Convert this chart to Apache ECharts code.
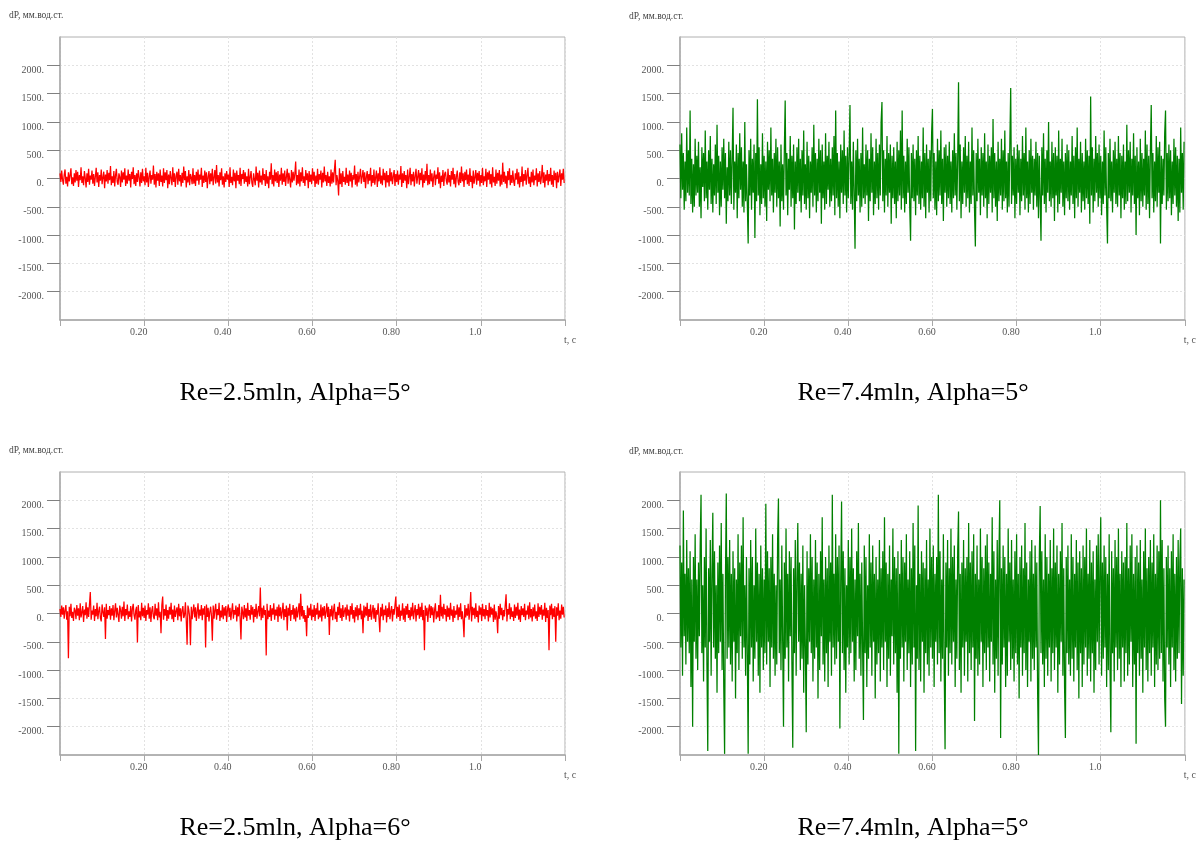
<!DOCTYPE html>
<html>
<head>
<meta charset="utf-8">
<script src="https://cdn.jsdelivr.net/npm/echarts@6/dist/echarts.min.js"></script>
<style>
html,body{margin:0;padding:0;background:#fff;}
#chart{width:1199px;height:846px;}
</style>
</head>
<body>
<div id="chart"></div>
<script>
// ---- data ----
const DT = 0.002; // sampling step, s
const xTickLabels = ['', '0.20', '0.40', '0.60', '0.80', '1.0', 't, c'];
const yTickValues = [-2000, -1500, -1000, -500, 0, 500, 1000, 1500, 2000];
const yTickLabels = ['-2000.', '-1500.', '-1000.', '-500.', '0.', '500.', '1000.', '1500.', '2000.'];
const axisTitle = 'dP, мм.вод.ст.';
const captions = ['Re=2.5mln, Alpha=5°', 'Re=7.4mln, Alpha=5°', 'Re=2.5mln, Alpha=6°', 'Re=7.4mln, Alpha=5°'];

const dpRe25a5 = [
90,-60,140,-20,-110,70,160,-90,30,-140,110,-50,60,180,-100,20,-130,90,-70,150,
-40,120,-150,60,-30,200,-80,40,-120,130,10,-160,90,-60,170,-110,50,-20,140,-90,
80,-130,30,190,-70,110,-150,60,-40,160,-100,20,120,-170,70,-50,150,-90,100,-30,
220,-120,40,-80,130,-140,60,170,-60,-110,90,30,-150,140,-70,110,-20,180,-130,50,
-90,160,-40,80,-160,120,-10,200,-100,60,-130,90,-60,150,20,-140,110,-80,170,-50,
40,-120,190,-70,100,-150,30,140,-90,60,-20,230,-110,80,-160,120,-40,90,-130,160,
-60,50,-140,180,-80,110,-30,150,-170,70,-100,130,10,-120,200,-60,90,-150,40,120,
-110,170,-50,60,-140,100,-80,210,-30,130,-160,40,-70,150,-120,80,20,-100,180,-90,
60,-130,120,-40,160,-110,70,-20,190,-150,50,-80,140,-60,110,-170,30,130,-100,90,
-50,170,-120,20,150,-90,240,-70,60,-140,110,-30,180,-110,40,-160,90,-60,130,-20,
70,-150,200,-80,30,-120,160,-50,100,-170,140,-40,60,-100,190,-130,80,-10,150,-90,
110,-60,40,-140,170,-100,20,130,-80,-150,90,60,-120,210,-40,100,-160,140,-70,50,
-110,180,-30,80,-130,150,-90,40,-170,120,-20,270,-100,60,-140,160,-50,110,-80,130,
-150,70,-40,190,-110,90,-60,140,-130,30,170,-90,100,-20,-160,150,-70,120,-40,80,
300,-120,60,-90,160,-140,110,-50,200,-80,40,-130,150,-30,90,-170,130,-60,70,-100,
180,-40,120,-150,50,-90,170,-110,80,-20,140,-160,100,-70,210,-50,60,-130,120,-80,
40,-140,160,-90,110,-70,150,330,-120,60,-40,-300,180,-100,90,-150,130,-60,30,-110,
190,-80,70,-130,140,-50,100,-160,60,-20,230,-110,80,-140,120,-70,40,170,-90,-120,
150,-60,110,-170,30,130,-100,80,-40,190,-140,60,-80,160,-110,20,140,-150,90,-50,
200,-90,50,-120,170,-30,100,-160,130,-70,60,-140,180,-50,110,-100,40,150,-130,80,
-60,140,-110,70,-20,220,-150,90,-80,130,-40,60,-170,160,-100,30,190,-120,80,-50,
120,-140,40,170,-90,-60,150,-110,100,-30,180,-160,70,-80,130,-40,260,-120,60,-100,
160,-50,90,-150,30,140,-120,70,-10,200,-90,110,-170,50,-60,150,-130,80,120,-40,
-110,170,-70,60,-140,130,-20,190,-100,80,-160,40,140,-60,-120,110,-80,210,-50,90,
-150,120,-30,160,-100,70,-130,180,-60,50,-170,140,-90,20,150,-110,100,-40,130,-140,
60,-80,190,-120,40,-50,170,-150,110,-20,140,-100,80,-160,200,-70,30,-130,160,-90,
100,-40,150,-140,70,-110,280,-60,120,-90,50,-170,130,-30,180,-120,60,-80,140,-50,
-130,90,-20,170,-100,110,-160,40,-60,210,-140,80,-40,150,-110,60,190,-90,30,-150,
120,-70,160,-120,50,-30,180,-140,90,-60,130,-100,20,240,-80,110,-160,70,-40,150,
-120,80,-50,190,-110,60,-150,140,-30,100,-170,120,-70,50,160,-130,90,-20,170,-80
];

const dpRe74a5top = [
600,-350,800,-200,450,-550,300,-400,900,-250,500,-300,1200,-450,350,-600,250,-500,700,-300,
400,-250,650,-500,200,-700,550,-150,450,-400,850,-350,300,-550,500,-200,750,-450,350,-600,
250,-300,600,-450,950,-250,400,-650,300,-500,550,-200,700,-350,450,-800,200,-400,650,-300,
500,-450,350,1250,-550,300,-250,600,-700,450,-350,800,-200,550,-500,300,-600,1000,-400,250,
-450,-1150,500,-300,700,-550,350,-250,600,-1050,450,-400,1400,-300,550,-650,250,-450,800,-350,
400,-500,300,-750,650,-200,500,-400,900,-300,350,-600,450,-250,700,-500,550,-350,300,-850,
600,-400,250,-550,500,1380,-300,450,-650,350,-200,750,-500,400,-350,600,-900,300,-450,550,
-250,700,-400,350,-600,500,-300,850,-450,250,-550,650,-350,400,-700,300,-250,550,-500,950,
-300,450,-600,350,-400,700,-250,500,-800,600,-350,300,-550,800,-450,400,-200,650,-500,350,
-400,550,-300,750,-650,1200,-350,450,-500,300,-700,600,-250,500,-450,850,-300,400,-600,550,
-350,400,1300,-450,300,-550,650,-250,-1240,500,-400,700,-300,350,-600,450,-500,900,-350,250,
-450,600,-300,500,-750,350,-400,800,-250,550,-650,300,-450,700,-350,450,-550,600,-300,1000,
1350,-400,500,-600,350,-300,750,-500,450,-250,600,-800,400,-350,550,-450,300,-700,650,-400,
500,-300,850,-550,1200,-350,400,-600,300,-450,700,-250,550,-500,-1100,450,-350,600,-400,350,
-650,500,-300,750,-450,400,-550,300,-350,900,-500,450,-700,600,-250,350,-600,500,-400,800,
1230,-350,450,-550,300,-650,700,-400,500,-300,850,-450,350,-750,550,-250,600,-500,400,-350,
650,-450,300,-600,500,-350,800,-300,450,-550,350,1700,-400,600,-700,300,-450,550,-250,750,
-500,400,-350,650,-600,300,-450,900,-300,500,-550,-1200,450,-400,700,-250,350,-650,550,-300,
450,-500,800,-350,300,-700,600,-450,400,-250,550,-600,1050,-350,450,-500,300,-750,650,-400,
350,-300,700,-550,500,-400,850,-350,300,-600,450,-500,650,1600,-450,400,-300,550,-700,350,
-450,600,-250,500,-650,350,-400,750,-300,450,-550,900,-350,300,-600,500,-450,700,-250,400,
-550,350,-300,650,-500,450,-700,400,-350,-1100,550,-300,800,-450,350,-600,500,-250,1000,-400,
300,-500,650,-350,450,-750,550,-300,400,-600,850,-450,350,-250,700,-500,300,-650,450,-350,
600,-400,500,-550,300,-300,750,-450,400,-700,550,-350,900,-500,350,-250,650,-600,450,-400,
300,-550,700,-350,500,-450,400,-800,1450,-300,550,-600,350,-400,750,-250,450,-500,600,-350,
400,-650,300,-450,850,-300,550,-500,-1150,450,-350,700,-400,300,-600,500,-250,650,-450,350,
-500,750,-300,450,-700,400,-350,600,-550,300,-450,950,-400,500,-250,650,-600,350,-300,800,
-450,400,-1000,550,-350,300,-650,700,-400,450,-500,350,-300,850,-550,600,-450,400,-700,500,
1300,-350,450,-600,300,-400,750,-500,550,-250,650,-1150,400,-450,350,-300,800,1200,-550,450,
-400,600,-350,500,-650,300,-450,700,-300,550,-500,400,-750,350,-600,900,-250,450,-550,650
];

const dpRe25a6 = [
80,-60,140,-20,110,-90,60,150,-110,40,-790,120,-50,170,-80,30,-130,100,60,-100,
150,-40,90,-120,180,-70,20,130,-150,70,-30,200,-90,110,-60,160,380,-110,50,-20,
140,-130,80,-50,190,-100,40,120,-80,-140,160,30,-60,110,-450,170,-90,60,-30,130,
-110,90,-40,150,-120,50,180,-70,100,-20,-150,140,60,-90,120,-50,210,-130,80,-30,
160,-100,40,-60,130,-140,90,170,-30,-110,60,120,-510,150,-70,40,-120,190,-50,100,
-80,140,-130,60,-20,180,-90,110,-150,50,130,-60,-100,170,-40,90,-120,200,-70,30,
-350,150,300,-110,80,-40,160,-130,60,-90,120,-20,190,-100,70,-150,140,-60,40,110,
-120,170,-50,90,-140,60,130,-80,-30,200,-110,-550,140,70,-60,-560,120,-100,50,160,
-70,110,-130,40,180,-90,70,-40,150,-120,90,-20,130,-600,160,-60,100,-140,30,120,
-50,-480,140,-90,60,170,-110,80,-30,190,-130,50,-70,150,-100,110,-40,130,-150,70,
160,-60,100,-120,40,180,-90,60,-20,140,-140,110,-50,170,-80,-460,120,30,-100,150,
-70,90,-130,190,-40,60,-110,150,-20,120,-160,80,-60,170,-90,40,130,-50,460,-120,
100,-80,140,-30,60,-740,170,-100,50,-60,150,-130,90,-20,180,-110,70,-40,120,-150,
160,-50,110,-90,30,190,-120,80,-60,140,-300,100,-40,170,-130,60,-20,150,-100,90,
-140,120,-70,40,180,-110,350,-50,130,-90,60,-150,-30,-400,140,-80,100,-40,170,-120,
70,-60,150,-130,90,-20,190,-100,50,-70,160,-140,110,-40,130,-90,30,180,-60,120,
-380,80,-50,140,-120,60,170,-100,30,-150,120,-30,200,-80,90,-130,150,-60,40,110,
-110,160,-40,70,-140,130,-20,180,-90,60,-160,110,-50,150,-120,90,-30,170,-100,50,
-350,140,-70,120,-40,190,-130,80,-60,160,-110,30,150,-90,100,-150,60,-20,180,-80,
-330,110,-50,170,-120,70,-30,140,-160,90,-60,200,-100,40,130,-140,80,-20,150,300,
-90,120,-60,160,-130,50,-40,180,-110,90,-150,130,-20,170,-80,60,-120,110,-50,190,
-100,40,150,-140,80,-30,170,-90,120,-60,190,-120,60,-650,140,-40,100,-150,70,160,
-80,130,-30,110,-160,60,180,-100,40,-70,150,-130,330,-50,120,-90,170,-20,80,-140,
140,-60,100,-110,190,-40,70,-150,130,-80,50,-20,160,-120,110,-60,180,-100,40,-130,
-420,150,-70,90,-40,170,-110,60,380,-140,120,-30,100,-90,180,-60,50,-160,140,-20,
110,-130,170,-50,80,-100,150,-40,60,-140,190,-70,120,-20,90,-150,160,-110,40,-60,
-350,130,-90,170,-30,100,-120,60,-50,150,340,-140,80,-20,180,-100,110,-60,40,-130,
160,-80,120,-40,190,-110,70,-150,130,-30,90,-60,170,-120,50,-20,140,-100,200,-70,
80,-140,110,-50,160,-90,40,-130,180,-60,120,-20,150,-110,70,-40,190,-150,100,-80,
60,-650,140,-30,170,-100,90,-60,130,-500,110,-40,180,-120,50,-90,160,-20,120,-70
];

const dpRe74a5bottom = [
1200,-600,900,-1100,1820,-400,700,-900,1300,-500,800,-700,1100,-1300,600,-2000,1000,-500,1400,-800,
600,-1000,900,-400,1200,2100,-700,500,-1200,1000,-600,1500,-900,-2430,800,-500,1300,-1100,700,1780,
-600,1100,-800,500,-1400,900,-700,1200,-500,1600,-1000,700,-1300,-2480,600,2120,-800,1000,-600,1300,
-900,700,-1200,1100,-500,800,-1500,600,-700,1400,-1000,900,-400,1200,-800,1700,-600,500,-1100,1000,
-700,-2480,800,-900,1300,-600,1000,-1200,500,-800,1500,-500,900,-1100,700,-1400,1200,-600,800,-1000,
600,-700,1940,-900,1100,-500,800,-1300,1000,-600,1400,-800,700,-1100,500,-900,1300,2030,-700,600,
-1000,1200,-500,-2000,900,-800,1500,-600,700,-1200,1100,-400,1000,-900,-2370,800,-700,1300,-1100,600,
1600,-500,900,-1000,700,-800,1200,-1400,500,-600,-2100,1100,-900,800,-500,1400,-700,1000,-1200,600,
-800,1300,-600,900,-1500,700,-1000,1100,-400,1700,-900,600,-1200,1000,-700,800,-1300,1200,-500,900,
-1100,2100,-600,700,-900,1400,-800,1000,-500,1200,-2030,600,1980,-700,1100,-1000,800,-1400,500,-600,
1300,-900,1000,-700,1500,-500,800,-1200,600,-1000,1100,-400,1600,-800,700,-1100,900,-600,-1880,1200,
-700,1000,-1300,500,-800,1400,-600,900,-1100,1200,-500,700,-1500,1000,-900,600,-700,1300,-1200,800,
-600,1100,-1000,1700,-500,900,-1300,700,-800,1200,-1100,600,-400,1500,-900,1000,-700,800,-1400,1100,
-2480,700,-800,1300,-600,1000,-1200,900,-500,1400,-1000,600,-700,1100,-1300,800,-900,1600,-600,1200,
-2430,500,-800,1910,-1000,700,-1200,1100,-500,900,-1400,800,-700,1300,-900,600,-1100,1500,-600,1000,
-800,1200,-1300,700,-500,1000,-900,2100,-700,1100,-1200,600,-800,1400,-1000,-2400,900,-600,1300,-1100,
800,-700,1500,-900,1000,-500,1200,-1300,600,-800,1100,1800,-1000,700,-1400,900,-600,1300,-1100,800,
-500,1000,-1200,1600,-700,900,-1000,1100,-600,1400,-1900,700,-800,1200,-1100,600,-900,1500,-500,1000,
-1300,800,-700,1200,-1000,1400,-600,900,-1200,700,-500,1700,-900,1100,-1400,600,-800,1300,-1100,1000,
2000,-2200,800,-900,1200,-600,1000,-1300,700,-1100,1500,-500,900,-1000,1300,-800,600,-1200,1100,-700,
1400,-900,700,-1500,1000,-600,1200,-1100,800,-700,1600,-1000,900,-1300,600,-500,1100,-1200,1300,-800,
700,-1000,1200,-600,900,-1400,-2500,1000,1900,-700,1100,-900,600,-1300,1400,-800,1000,-1100,700,-600,
1300,-1200,800,-700,1500,-1000,900,-600,1200,-1400,700,-900,1100,-500,1600,-1100,800,-1300,-2200,1000,
-700,1200,-900,600,-1100,1400,-800,1000,-1200,700,-600,1300,-1000,900,-1500,1100,-700,800,-1300,1200,
-900,1000,-600,1500,-1100,700,-800,1300,-1200,900,-700,1100,-1400,600,-1000,1200,-500,1400,-900,800,
1700,-1100,900,-800,1200,-600,1000,-1300,700,-1000,1400,-900,-2100,1100,-700,800,-1200,1300,-600,1000,
-1000,1500,-800,700,-1300,1100,-600,900,-1200,1000,-700,1600,-1100,800,-900,1200,-500,1400,-1300,700,
-900,1000,-2300,1200,-700,900,-1100,1300,-800,600,-1400,1100,-600,1500,-1000,800,-1200,1000,-700,1300,
-1100,900,-600,1400,-1300,700,-900,1200,-1000,1100,-800,2000,-700,1300,-1200,800,-1500,-2000,1000,-600,
1200,-900,800,-1300,1100,-600,1400,-1000,700,-1200,1000,-800,1300,-700,900,1500,-1600,800,-1100,600
];

const seriesData = [dpRe25a5, dpRe74a5top, dpRe25a6, dpRe74a5bottom];
const seriesColors = ['#ff0000', '#008000', '#ff0000', '#008000'];

// ---- layout ----
const panels = [
  {left: 60,  top: 37,  capX: 295, capY: 380, tX: 9,   tY: 10},
  {left: 680, top: 37,  capX: 913, capY: 380, tX: 629, tY: 11},
  {left: 60,  top: 472, capX: 295, capY: 815, tX: 9,   tY: 445},
  {left: 680, top: 472, capX: 913, capY: 815, tX: 629, tY: 446}
];
const PW = 505, PH = 283;
const SERIF = '"Liberation Serif", "Times New Roman", serif';

const chart = echarts.init(document.getElementById('chart'), null, {renderer: 'canvas'});

const grids = [], xAxes = [], yAxes = [], series = [], graphics = [];
panels.forEach((p, k) => {
  grids.push({left: p.left, top: p.top, width: PW, height: PH, show: true,
    borderColor: '#b0b0b0', borderWidth: 1, backgroundColor: 'transparent', containLabel: false});
  xAxes.push({
    type: 'value', gridIndex: k, min: 0, max: 1.2, interval: 0.2,
    axisLine: {show: true, onZero: false, lineStyle: {color: '#a8a8a8', width: 1.5}},
    axisTick: {show: true, length: 6, lineStyle: {color: '#a8a8a8', width: 1}},
    splitLine: {show: true, lineStyle: {color: '#e2e2e2', type: [2, 2], width: 1}},
    axisLabel: {
      show: true, margin: 7, fontFamily: SERIF, fontSize: 10, color: '#555',
      padding: [0, 11, 0, 0], showMinLabel: true, showMaxLabel: true,
      formatter: v => {
        const i = Math.round(v / 0.2);
        const s = xTickLabels[i] || '';
        return i === 6 ? '{tc|' + s + '}' : s;
      },
      rich: {tc: {fontFamily: SERIF, fontSize: 10, color: '#555', padding: [8, 0, 0, 21]}}
    }
  });
  yAxes.push({
    type: 'value', gridIndex: k, min: -2500, max: 2500, interval: 500,
    axisLine: {show: true, lineStyle: {color: '#a8a8a8', width: 1.5}},
    axisTick: {show: true, length: 13, customValues: yTickValues, lineStyle: {color: '#808080', width: 1}},
    splitLine: {show: true, lineStyle: {color: '#e2e2e2', type: [2, 2], width: 1}},
    axisLabel: {
      show: true, margin: 16, fontFamily: SERIF, fontSize: 10, color: '#555',
      customValues: yTickValues, verticalAlign: 'top',
      formatter: v => {
        const i = yTickValues.indexOf(Math.round(v));
        return i < 0 ? '' : yTickLabels[i];
      }
    }
  });
  series.push({
    type: 'line', xAxisIndex: k, yAxisIndex: k,
    data: seriesData[k].map((v, i) => [i * DT, v]),
    showSymbol: false, symbol: 'none', clip: true,
    lineStyle: {color: seriesColors[k], width: 1.25, opacity: 1},
    itemStyle: {color: seriesColors[k]},
    emphasis: {disabled: true}, silent: true
  });
  graphics.push({
    type: 'text', x: p.capX, y: p.capY, silent: true,
    style: {text: captions[k], fontFamily: SERIF, fontSize: 26, fill: '#000',
      align: 'center', verticalAlign: 'top', textAlign: 'center', textVerticalAlign: 'top'}
  });
  graphics.push({
    type: 'text', x: p.tX, y: p.tY, silent: true,
    style: {text: axisTitle, fontFamily: SERIF, fontSize: 9.5, fill: '#444',
      align: 'left', verticalAlign: 'top', textAlign: 'left', textVerticalAlign: 'top'}
  });
});

chart.setOption({
  animation: false,
  backgroundColor: '#fff',
  grid: grids,
  xAxis: xAxes,
  yAxis: yAxes,
  series: series,
  graphic: graphics
});
</script>
</body>
</html>
